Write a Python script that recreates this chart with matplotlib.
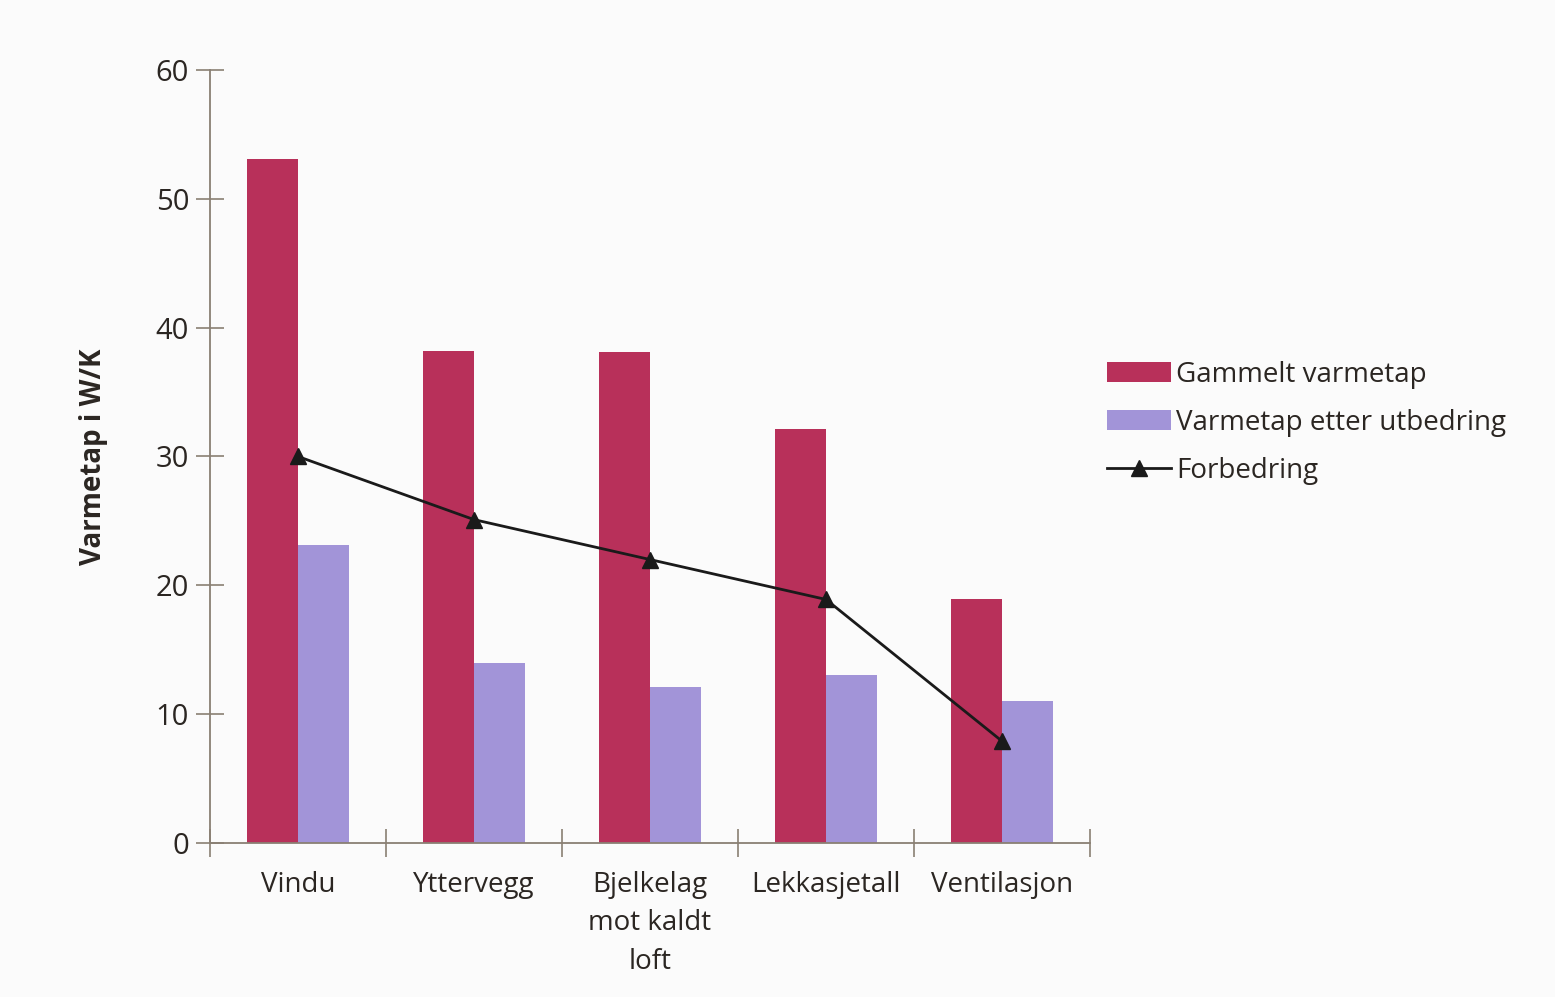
import numpy as np
import matplotlib
matplotlib.use('Agg')
import matplotlib.pyplot as plt

plt.rcParams['font.family'] = ['Open Sans', 'DejaVu Sans']

categories = ['Vindu', 'Yttervegg', 'Bjelkelag\nmot kaldt\nloft', 'Lekkasjetall', 'Ventilasjon']
gammelt = [53.1, 38.2, 38.1, 32.1, 18.9]
etter = [23.1, 14.0, 12.1, 13.0, 11.0]
forbedring = [30.0, 25.1, 22.0, 18.9, 7.9]
y_ticks = [0, 10, 20, 30, 40, 50, 60]

red = '#b8305a'
purple = '#a294d8'
axis_col = '#8a8073'
text_col = '#2b2622'


def main():
    fig = plt.figure(figsize=(15.55, 9.97), dpi=100)
    fig.patch.set_facecolor('#fbfbfb')
    ax = fig.add_axes([0.135, 0.1545, 0.566, 0.7753])
    ax.set_facecolor('none')

    x = np.arange(len(categories))
    w = 0.29
    b1 = ax.bar(x - w / 2, gammelt, width=w, color=red, label='Gammelt varmetap')
    b2 = ax.bar(x + w / 2, etter, width=w, color=purple,
                label='Varmetap etter utbedring')
    l1, = ax.plot(x, forbedring, color='#1a1a1a', lw=2, marker='^', markersize=11,
                  label='Forbedring')

    ax.set_xlim(-0.5, len(categories) - 0.5)
    ax.set_ylim(0, 60)
    ax.set_yticks(y_ticks)
    ax.set_xticks(x)
    ax.set_xticklabels(categories, fontsize=20, color=text_col, linespacing=1.5,
                       va='top')
    ax.set_xticks(np.arange(len(categories) + 1) - 0.5, minor=True)
    ax.tick_params(axis='x', which='major', length=0, pad=20)
    ax.tick_params(axis='x', which='minor', direction='inout', length=20,
                   width=1.2, color=axis_col)
    ax.tick_params(axis='y', direction='inout', length=20, width=1.2,
                   color=axis_col, labelsize=21, labelcolor=text_col, pad=5)

    for s in ['top', 'right']:
        ax.spines[s].set_visible(False)
    for s in ['left', 'bottom']:
        ax.spines[s].set_color(axis_col)
        ax.spines[s].set_linewidth(1.3)

    ax.set_ylabel('Varmetap i W/K', fontsize=20, fontweight='bold',
                  color=text_col, labelpad=34)

    leg = ax.legend([b1, b2, l1],
                    ['Gammelt varmetap', 'Varmetap etter utbedring', 'Forbedring'],
                    loc='upper left', bbox_to_anchor=(1.019, 0.624), frameon=False,
                    fontsize=20, handlelength=2.3, handleheight=0.7,
                    handletextpad=0.2, labelspacing=0.72, borderpad=0,
                    borderaxespad=0)
    for t in leg.get_texts():
        t.set_color(text_col)

    fig.savefig('out.png', dpi=100, facecolor=fig.get_facecolor())


if __name__ == '__main__':
    main()
